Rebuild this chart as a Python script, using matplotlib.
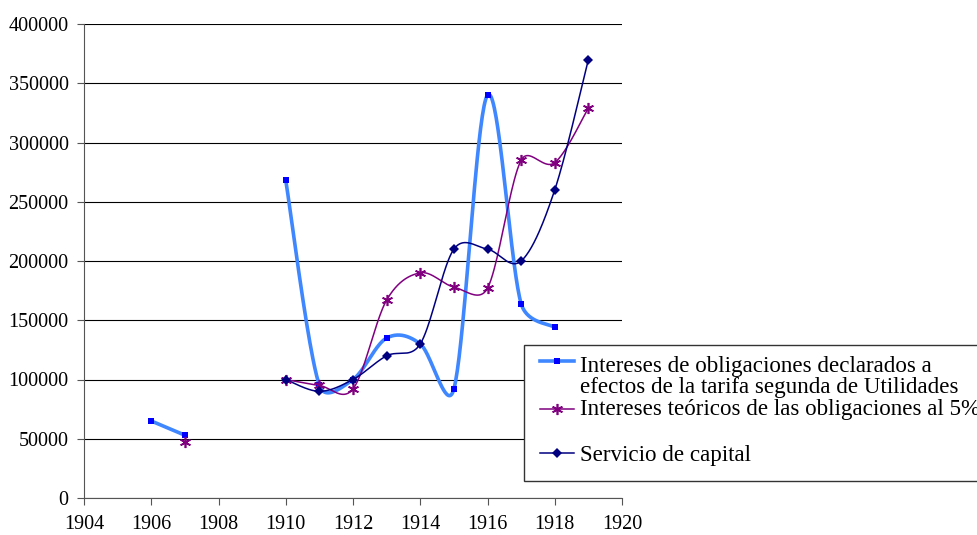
import numpy as np
import matplotlib.pyplot as plt
from matplotlib.lines import Line2D
from matplotlib.patches import Rectangle

years = [1906, 1907, 1908, 1909, 1910, 1911, 1912, 1913, 1914, 1915, 1916, 1917, 1918, 1919]
nan = np.nan
declarados = [65000, 53000, nan, nan, 268000, 95000, 100000, 135000, 130000, 92000, 340000, 164000, 144000, nan]
teoricos = [nan, 47000, nan, nan, 100000, 95000, 92000, 167000, 190000, 178000, 177000, 285000, 283000, 329000]
servicio = [nan, nan, nan, nan, 100000, 90000, 100000, 120000, 130000, 210000, 210000, 200000, 260000, 370000]

labels = ["Intereses de obligaciones declarados a\nefectos de la tarifa segunda de Utilidades",
          "Intereses teóricos de las obligaciones al 5%",
          "Servicio de capital"]

plt.rcParams['font.family'] = ['Liberation Serif', 'DejaVu Serif']

W, H = 978, 535


def runs(x, y):
    # split series where values are missing
    x = np.asarray(x, float)
    y = np.asarray(y, float)
    out, cur = [], []
    for xi, yi in zip(x, y):
        if np.isnan(yi):
            if cur:
                out.append(np.array(cur))
            cur = []
        else:
            cur.append((xi, yi))
    if cur:
        out.append(np.array(cur))
    return out


def smooth(ax, pts, n=40):
    # spreadsheet-like smoothed line: bezier with tangents (p2-p0)/6,
    # limited to half the segment length, worked out in pixel space
    if len(pts) < 3:
        return pts[:, 0], pts[:, 1]
    d = ax.transData.transform(pts)
    p = np.vstack([d[0], d, d[-1]])
    t = np.linspace(0, 1, n)[:, None]
    out = []
    for i in range(1, len(p) - 2):
        p0, p1, p2, p3 = p[i - 1], p[i], p[i + 1], p[i + 2]
        seg = np.hypot(*(p2 - p1))
        v1 = (p2 - p0) / 6
        v2 = (p3 - p1) / 6
        l1, l2 = np.hypot(*v1), np.hypot(*v2)
        if l1 > seg / 2:
            v1 = v1 * (seg / 2) / l1
        if l2 > seg / 2:
            v2 = v2 * (seg / 2) / l2
        c1 = p1 + v1
        c2 = p2 - v2
        b = (1 - t) ** 3 * p1 + 3 * (1 - t) ** 2 * t * c1 + 3 * (1 - t) * t ** 2 * c2 + t ** 3 * p2
        out.append(b)
    b = ax.transData.inverted().transform(np.vstack(out))
    return b[:, 0], b[:, 1]


fig = plt.figure(figsize=(W / 100, H / 100), dpi=100)
ax = fig.add_axes([84 / W, 37 / H, 538 / W, 474 / H])
ax.set_xlim(1904, 1920)
ax.set_ylim(0, 400000)

styles = [
    dict(line='#3F87FF', lw=2.6, mk='s', mc='#0000FF', ms=5, mew=0),
    dict(line='#800080', lw=1.1, mk=(6, 2, 0), mc='#800080', ms=8, mew=1.2),
    dict(line='#000080', lw=1.1, mk='D', mc='#000080', ms=5, mew=0),
]

for vals, st in zip([declarados, teoricos, servicio], styles):
    for seg in runs(years, vals):
        sx, sy = smooth(ax, seg)
        ax.plot(sx, sy, color=st['line'], lw=st['lw'], solid_capstyle='butt', zorder=3)
        ax.plot(seg[:, 0], seg[:, 1], ls='none', marker=st['mk'], color=st['mc'],
                ms=st['ms'], mew=st['mew'], zorder=4)

ax.set_xlim(1904, 1920)
ax.set_ylim(0, 400000)
ax.set_xticks(range(1904, 1921, 2))
ax.set_yticks(range(0, 400001, 50000))
ax.set_yticklabels([str(v) for v in range(0, 400001, 50000)])
ax.yaxis.grid(True, color='black', lw=0.8)
ax.set_axisbelow(True)
for s in ['top', 'right']:
    ax.spines[s].set_visible(False)
for s in ['left', 'bottom']:
    ax.spines[s].set_color('#555555')
ax.tick_params(axis='both', labelsize=14.5, length=5, color='#555555')
ax.tick_params(axis='y', pad=6)
ax.tick_params(axis='x', pad=7)

# legend box, drawn by hand to keep the spreadsheet layout
fig.patches.append(Rectangle((524 / W, 1 - 481 / H), 470 / W, 136 / H, transform=fig.transFigure,
                             facecolor='white', edgecolor='#333333', lw=1, zorder=5))
handle_y = [361, 409, 453]
baselines = [[372, 393], [415], [461]]
for y, bl, lab, st in zip(handle_y, baselines, labels, styles):
    yy = 1 - y / H
    fig.add_artist(Line2D([540 / W, 557 / W, 574 / W], [yy, yy, yy], color=st['line'], lw=st['lw'],
                          marker=st['mk'], markevery=[1], mfc=st['mc'], mec=st['mc'],
                          ms=st['ms'], mew=st['mew'], zorder=6))
    for b, line in zip(bl, lab.split('\n')):
        fig.text(580 / W, 1 - b / H, line, fontsize=16.6, va='baseline', ha='left', zorder=6)

fig.savefig('out.png', dpi=100)
